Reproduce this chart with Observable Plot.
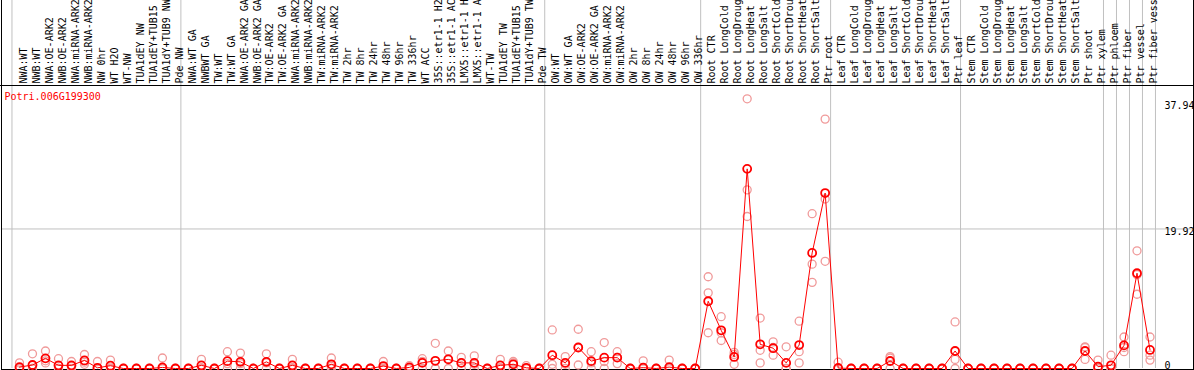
<!DOCTYPE html>
<html>
<head>
<meta charset="utf-8">
<script src="https://cdn.jsdelivr.net/npm/d3@7"></script>
<script src="https://cdn.jsdelivr.net/npm/@observablehq/plot@0.6"></script>
<style>
  html, body { margin: 0; padding: 0; background: #fff; }
  #chart svg { display: block; }
</style>
</head>
<body>
<div id="chart"></div>
<script>
const title = "Potri.006G199300";

const samples = [
  "NWA:WT", "NWB:WT", "NWA:OE-ARK2", "NWB:OE-ARK2", "NWA:miRNA-ARK2", "NWB:miRNA-ARK2",
  "NW 0hr", "WT H2O", "WT-NW", "TUA1dEY NW", "TUA1dEY+TUB15 NW", "TUA1dY+TUB9 NW", "Pde NW",
  "NWA:WT GA", "NWBWT GA", "TW:WT", "TW:WT GA", "NWA:OE-ARK2 GA", "NWB:OE-ARK2 GA",
  "TW:OE-ARK2", "TW:OE-ARK2 GA", "NWA:miRNA-ARK2 GA", "NWB:miRNA-ARK2 GA", "TW:miRNA-ARK2",
  "TW:miRNA-ARK2 GA", "TW 2hr", "TW 8hr", "TW 24hr", "TW 48hr", "TW 96hr", "TW 336hr",
  "WT ACC", "35S::etr1-1 H2O", "35S::etr1-1 ACC", "LMX5::etr1-1 H2O", "LMX5::etr1-1 ACC",
  "WT-TW", "TUA1dEY TW", "TUA1dEY+TUB15 TW", "TUA1dY+TUB9 TW", "Pde TW",
  "OW:WT", "OW:WT GA", "OW:OE-ARK2", "OW:OE-ARK2 GA", "OW:miRNA-ARK2", "OW:miRNA-ARK2 GA",
  "OW 2hr", "OW 8hr", "OW 24hr", "OW 48hr", "OW 96hr", "OW 336hr",
  "Root CTR", "Root LongCold", "Root LongDrought", "Root LongHeat", "Root LongSalt",
  "Root ShortCold", "Root ShortDrought", "Root ShortHeat", "Root ShortSalt", "Ptr root",
  "Leaf CTR", "Leaf LongCold", "Leaf LongDrought", "Leaf LongHeat", "Leaf LongSalt",
  "Leaf ShortCold", "Leaf ShortDrought", "Leaf ShortHeat", "Leaf ShortSalt", "Ptr leaf",
  "Stem CTR", "Stem LongCold", "Stem LongDrought", "Stem LongHeat", "Stem LongSalt",
  "Stem ShortCold", "Stem ShortDrought", "Stem ShortHeat", "Stem ShortSalt", "Ptr shoot",
  "Ptr xylem", "Ptr phloem", "Ptr fiber", "Ptr vessel", "Ptr fiber vessel"
];

const means = [
  0.2, 0.5, 1.45, 0.45, 0.45, 1.15, 0.1, 0.4, 0, 0, 0, 0.15, 0,
  0, 0.45, 0, 1.05, 0.95, 0, 0.95, 0, 0.45, 0, 0, 0.6, 0, 0, 0, 0.35, 0, 0.15,
  0.8, 1.1, 1.3, 0.8, 0.8, 0, 0.45, 0.6, 0.1, 0,
  1.9, 0.8, 3.0, 1.05, 1.55, 1.55, 0, 0.12, 0, 0.2, 0, 0,
  9.6, 5.45, 1.65, 28.5, 3.45, 2.9, 0.8, 3.35, 16.5, 25.05,
  0.07, 0, 0, 0, 1.07, 0, 0, 0, 0, 2.5,
  0, 0, 0, 0, 0, 0, 0, 0, 0, 2.5,
  0.26, 0.46, 3.3, 13.6, 2.65
];

const reps = [
  [0.8, 0, 0], [2.1, 0, 0], [2.5, 1.1, 0.8], [1.4, 0, 0], [1.0, 0.3, 0], [2.0, 0.9, 0.6],
  [1.0, 0, 0], [1.2, 0, 0], [0, 0, 0], [0, 0, 0], [0, 0, 0], [1.5, 0, 0], [0, 0, 0],
  [0, 0, 0], [1.3, 0, 0], [0, 0, 0], [2.4, 0.7, 0], [2.2, 0.7, 0], [0, 0, 0],
  [2.1, 0.8, 0], [0, 0, 0], [1.3, 0.1, 0], [0, 0, 0], [0, 0, 0], [1.5, 0.3, 0],
  [0, 0, 0], [0, 0, 0], [0, 0, 0], [1.0, 0.1, 0], [0, 0, 0], [0.4, 0, 0],
  [1.4, 1.0, 0], [3.6, 0, 0], [2.5, 1.4, 0], [1.6, 0.8, 0], [1.8, 0.6, 0],
  [0, 0, 0], [1.3, 0.1, 0], [1.0, 0.8, 0], [0.4, 0, 0], [0, 0, 0],
  [5.5, 0.6, 0], [1.7, 0.6, 0], [5.6, 3.0, 0.5], [2.4, 0.8, 0], [3.7, 1.0, 0], [2.4, 1.6, 0.7],
  [0, 0, 0], [1.1, 0, 0], [0, 0, 0], [1.2, 0, 0], [0, 0, 0], [0, 0, 0],
  [13.1, 10.8, 5.1], [7.4, 5.1, 4.0], [2.3, 2.0, 0.6], [38.5, 25.5, 21.7], [7.2, 2.6, 0.8],
  [3.8, 3.0, 1.9], [3.1, 0, 0], [6.75, 2.4, 0.8], [22.1, 14.9, 12.3], [35.6, 24.2, 15.3],
  [0.9, 0, 0], [0, 0, 0], [0, 0, 0], [0, 0, 0], [1.7, 1.5, 0], [0, 0, 0],
  [0, 0, 0], [0, 0, 0], [0, 0, 0], [6.65, 1.3, 0],
  [0, 0, 0], [0, 0, 0], [0, 0, 0], [0, 0, 0], [0, 0, 0], [0, 0, 0],
  [0, 0, 0], [0, 0, 0], [0, 0, 0], [3.1, 3.0, 1.3],
  [1.2, 0, 0], [1.9, 0, 0], [4.5, 3.0, 2.4], [16.8, 13.4, 10.6], [4.5, 1.9, 1.2]
];

// index of the last sample of each group (separator drawn just after it)
const groupEnds = [-1, 12, 40, 52, 62, 72, 83, 84, 85, 86, 87];

const yTicks = [37.94, 19.92, 0];
const yMax = 40.4;

const idx = d3.range(samples.length);
const repData = reps.flatMap((r, i) => r.map(v => ({i, v})));
const font = "'DejaVu Sans Mono', monospace";

const chart = Plot.plot({
  width: 1194,
  height: 370,
  marginTop: 85,
  marginBottom: 2,
  marginLeft: 1,
  marginRight: 38,
  x: {type: "linear", domain: [-18 / 13, 87 + 6.5 / 13], axis: null},
  y: {domain: [0, yMax], axis: null},
  style: {fontFamily: font, fontSize: "10px", background: "#fff", color: "#000"},
  marks: [
    Plot.ruleY([yTicks[1]], {stroke: "#c0c0c0", strokeWidth: 1, insetRight: -37}),
    Plot.ruleX(groupEnds, {x: d => d + 0.42, stroke: "#c0c0c0", strokeWidth: 1, insetTop: -90}),
    Plot.frame({stroke: "#000", insetTop: -90, insetBottom: -1, insetLeft: 0, insetRight: -37}),
    Plot.ruleY([yMax], {stroke: "#000", insetLeft: -1, insetRight: -38}),
    Plot.text(idx, {
      x: d => d, text: d => samples[d], frameAnchor: "top", rotate: -90,
      textAnchor: "start", dy: -2, fill: "#000", fontFamily: font, fontSize: 10
    }),
    Plot.text([title], {
      text: d => d, frameAnchor: "top-left", dx: 3, dy: 7,
      textAnchor: "start", lineAnchor: "top", fill: "#ff0000", fontFamily: font, fontSize: 10
    }),
    Plot.text(yTicks.filter(d => d > 0), {
      y: d => d, text: d => String(d), frameAnchor: "right", dx: 8, dy: -1,
      textAnchor: "start", lineAnchor: "top", fill: "#000", fontFamily: font, fontSize: 10
    }),
    Plot.text(yTicks.filter(d => d === 0), {
      y: d => d, text: d => String(d), frameAnchor: "right", dx: 8, dy: 0,
      textAnchor: "start", lineAnchor: "bottom", fill: "#000", fontFamily: font, fontSize: 10
    }),
    Plot.dot(repData, {x: "i", y: "v", r: 4, stroke: "#f09a9a", strokeWidth: 1.3, fill: "none"}),
    Plot.line(idx, {x: d => d, y: d => means[d], stroke: "#ff0000", strokeWidth: 1}),
    Plot.dot(idx, {x: d => d, y: d => means[d], r: 4, stroke: "#ff0000", strokeWidth: 1.8, fill: "none"})
  ]
});

document.getElementById("chart").append(chart);
</script>
</body>
</html>
